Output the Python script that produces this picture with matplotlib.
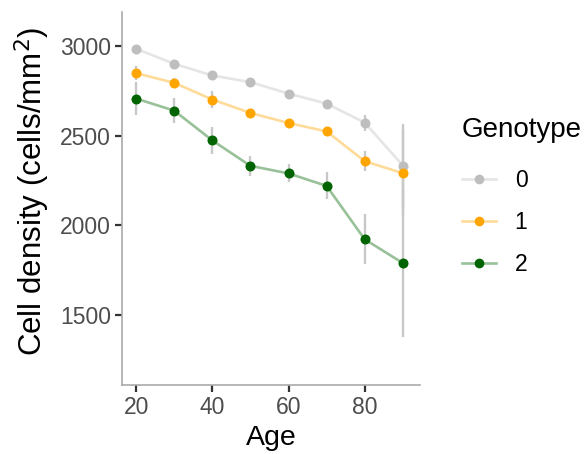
import matplotlib
matplotlib.use("Agg")
import matplotlib.pyplot as plt
from matplotlib.lines import Line2D

plt.rcParams['font.family'] = ['Liberation Sans', 'DejaVu Sans']

# data
age = [20, 30, 40, 50, 60, 70, 80, 90]
genotypes = ['0', '1', '2']
density = {
    '0': [2985, 2901, 2836, 2799, 2735, 2679, 2573, 2334],
    '1': [2849, 2795, 2702, 2627, 2571, 2524, 2358, 2291],
    '2': [2707, 2640, 2474, 2332, 2290, 2220, 1922, 1790],
}
err = {
    '0': [22, 18, 18, 16, 18, 18, 45, 230],
    '1': [40, 25, 45, 20, 20, 20, 55, 240],
    '2': [90, 70, 75, 55, 50, 75, 140, 410],
}
colors = {'0': '#bebebe', '1': '#ffa500', '2': '#006400'}

fig = plt.figure(figsize=(5.86, 4.54), dpi=100)
ax = fig.add_axes([122 / 586, 1 - 385 / 454, 298 / 586, 373 / 454])

for g in genotypes:
    ax.errorbar(age, density[g], yerr=err[g], fmt='none', ecolor='#c8c8c8',
                elinewidth=1.7, capsize=0, zorder=1)
for g in genotypes:
    ax.plot(age, density[g], color=colors[g], alpha=0.4, lw=1.9, zorder=2)
    ax.scatter(age, density[g], color=colors[g], s=52, zorder=3, linewidths=0)

ax.set_xlim(16.3, 94.5)
ax.set_ylim(1110, 3190)
ax.set_xticks([20, 40, 60, 80])
ax.set_yticks([1500, 2000, 2500, 3000])

for s in ['top', 'right']:
    ax.spines[s].set_visible(False)
for s in ['left', 'bottom']:
    ax.spines[s].set_color('#aaaaaa')
    ax.spines[s].set_linewidth(1.2)
ax.tick_params(length=5, width=1.6, color='#333333', labelcolor='#4d4d4d',
               labelsize=16.5, pad=3)

ax.set_xlabel('Age', fontsize=20.5, labelpad=4)
ax.set_ylabel('Cell density (cells/mm$^2$)', fontsize=22.5, labelpad=6)
ax.yaxis.label.set_y(0.52)

# legend: faded line with solid point on top, title as separate text
fig.text(462 / 586, 1 - 130 / 454, 'Genotype', fontsize=20, va='center', ha='left')
handles = []
for g in genotypes:
    ln = Line2D([0], [0], color=colors[g], lw=1.9, alpha=0.4)
    pt = Line2D([0], [0], linestyle='none', marker='o', markersize=7,
                markerfacecolor=colors[g], markeredgewidth=0)
    handles.append((ln, pt))
fig.legend(handles, genotypes, loc='upper left',
           bbox_to_anchor=(462 / 586, 1 - 169 / 454), frameon=False,
           borderpad=0, borderaxespad=0, fontsize=16.5,
           handlelength=1.5, handletextpad=0.8, labelspacing=0.83)

fig.savefig('out.png', dpi=100)
